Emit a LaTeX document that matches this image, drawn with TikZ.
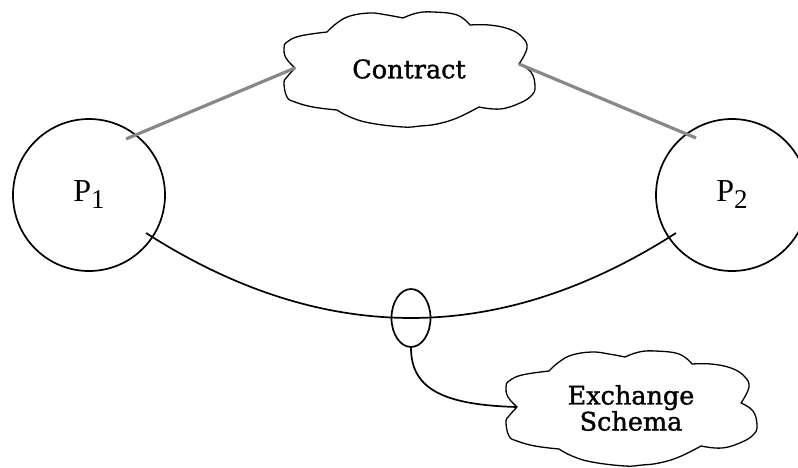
\documentclass[tikz,border=0pt]{standalone}
\usepackage{fontspec}
\setmainfont{Liberation Serif}
\newfontfamily\cloudfont{DejaVu Serif}[FakeBold=1.3]
\usetikzlibrary{shapes.geometric,calc}
\definecolor{linkgray}{RGB}{136,136,136}

\tikzset{
  party/.style={circle, draw, line width=1.7pt, minimum size=152pt, inner sep=0pt,
    font=\fontsize{32}{32}\selectfont},
  cloudlabel/.style={font=\cloudfont\fontsize{25.5}{24}\selectfont, align=center, inner sep=0pt},
  contractline/.style={draw=linkgray, line width=3.2pt},
  exchangeline/.style={draw, line width=1.7pt},
  linkring/.style={ellipse, draw, line width=1.7pt, minimum width=39pt, minimum height=58pt, inner sep=0pt},
  % hand-drawn cloud outline: seven lobes meeting in sharp notches
  cloudshape/.pic={
    \draw[line width=1.3pt, line join=round]
      plot[smooth, tension=0.7] coordinates {(-114,-2) (-123,-12) (-125,-22) (-122,-28) (-109,-34) (-82,-38)}
      -- plot[smooth, tension=0.7] coordinates {(-82,-38) (-72,-47) (-59,-54) (-39,-57) (-22,-55) (-6,-52)}
      -- plot[smooth, tension=0.7] coordinates {(-6,-52) (8,-57) (24,-58) (48,-55) (61,-45)}
      -- plot[smooth, tension=0.7] coordinates {(61,-45) (80,-45) (100,-41) (113,-33) (118,-22) (110,-6)}
      -- plot[smooth, tension=0.7] coordinates {(110,-6) (122,2) (126,16) (123,25) (111,33) (91,39) (70,37)}
      -- plot[smooth, tension=0.7] coordinates {(70,37) (48,48) (28,54) (11,56) (-6,57) (-39,53) (-59,47) (-72,40)}
      -- plot[smooth, tension=0.7] coordinates {(-72,40) (-96,37) (-114,32) (-122,27) (-125,13) (-122,7) (-114,-2)}
      -- cycle;
    \coordinate (-w) at (-114,-2);
    \coordinate (-e) at (110,-6);
  }
}

\newcommand{\partylabel}[1]{P\raisebox{-7pt}{\fontsize{27}{27}\selectfont #1}}

\begin{document}
\begin{tikzpicture}[x=1pt, y=-1pt]
  \useasboundingbox (0,0) rectangle (798,467);
  \clip (0,0) rectangle (798,467);

  % the two parties
  \node[party] (p1) at (89,195) {\partylabel{1}};
  \node[party] (p2) at (732,195) {\partylabel{2}};

  % clouds with their labels
  \pic (cc) at (409,70) {cloudshape};
  \node[cloudlabel] (contract) at (409,69) {Contract};
  \pic (sc) at (631,409) {cloudshape};
  \node[cloudlabel] (schema) at (631,408) {Exchange\\Schema};

  % free ends of the connectors, just inside the circles
  \coordinate (g1) at ($(p1.center)+(37,-56)$);
  \coordinate (g2) at ($(p2.center)+(-36,-57)$);
  \coordinate (a1) at ($(p1.center)+(57,38)$);
  \coordinate (a2) at ($(p2.center)+(-56,38)$);

  % contract links
  \draw[contractline] (g1) -- (cc-w);
  \draw[contractline] (cc-e) -- (g2);

  % exchange channel between the parties
  \draw[exchangeline] (a1) .. controls (322.7,346.3) and (499.3,346.3) .. (a2);
  \node[linkring] (link) at (411,318) {};
  \draw[exchangeline] (link.south) .. controls +(0,43) and +(-70,-2) .. (sc-w);
\end{tikzpicture}
\end{document}
